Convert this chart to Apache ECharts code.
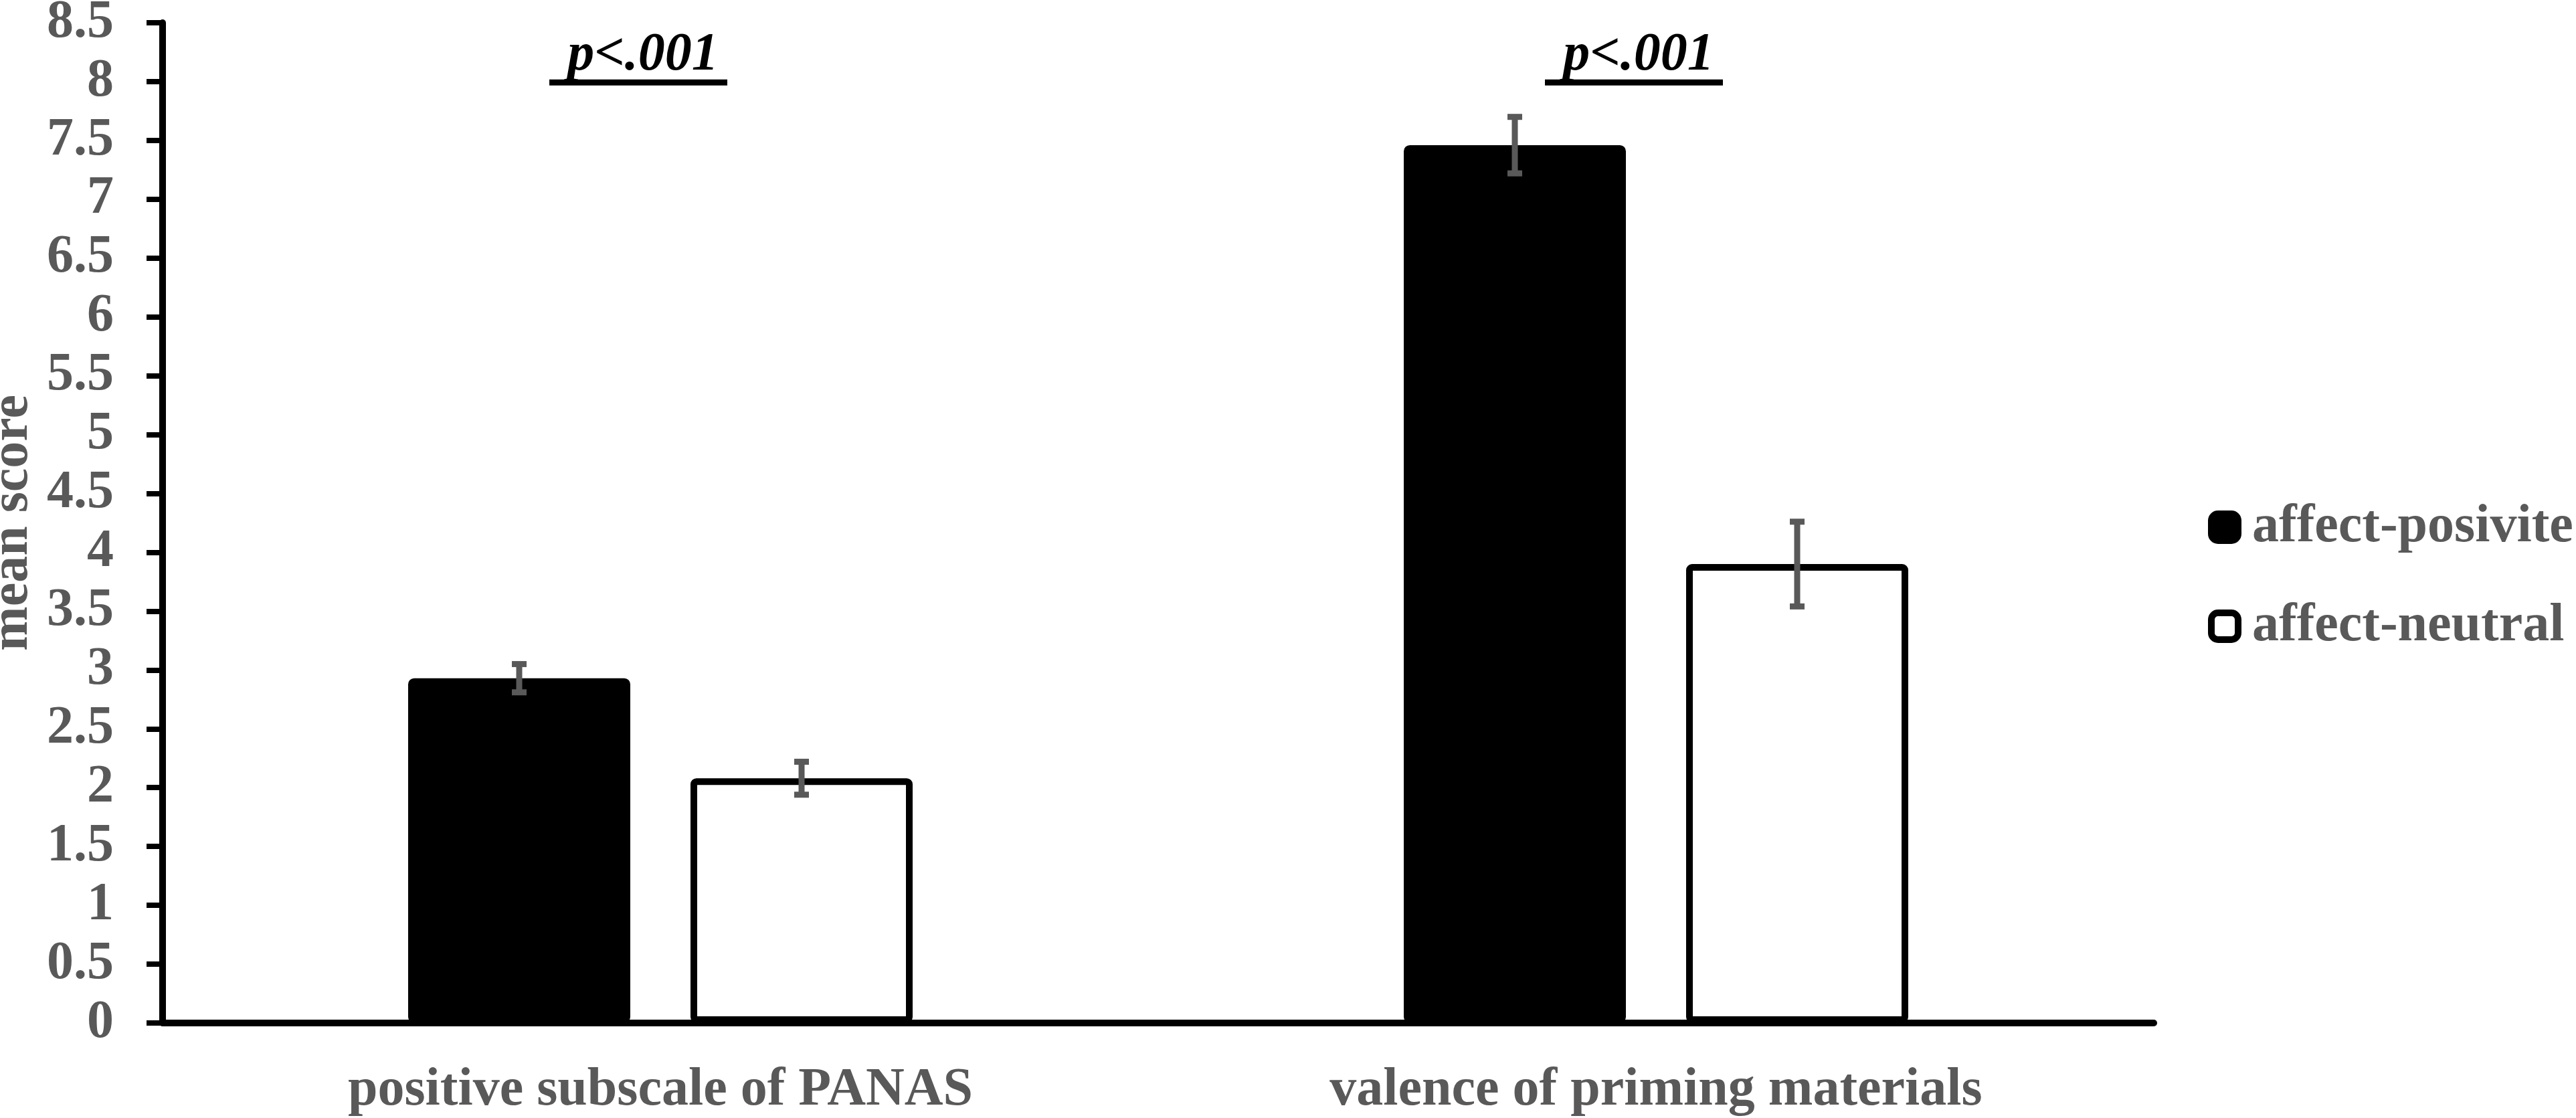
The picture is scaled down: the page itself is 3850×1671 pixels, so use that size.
<!DOCTYPE html>
<html>
<head>
<meta charset="utf-8">
<title>mean score</title>
<script src="https://cdn.jsdelivr.net/npm/echarts@6/dist/echarts.min.js"></script>
<style>
    html, body { margin: 0; padding: 0; background: #fff; }
    #chart { width: 3850px; height: 1671px; }
</style>
</head>
<body>
<div id="chart"></div>
<script>
// categories and series values
var categories = ["positive subscale of PANAS", "valence of priming materials"];
var seriesNames = ["affect-posivite", "affect-neutral"];
var positiveMeans = [2.93, 7.46];
var positiveErr = [0.12, 0.24];
var neutralMeans = [2.08, 3.90];
var neutralErr = [0.14, 0.36];
var pLabels = ["p<.001", "p<.001"];
var pLabelLevel = 8.22;

var font = "'Liberation Serif', 'Times New Roman', serif";
var grey = "#595959";
var barWidthPx = 332;
var barGapPx = 90;

var myChart = echarts.init(document.getElementById("chart"));

// error bar data: [categoryIndex, low, high]
function errData(means, errs) {
    return means.map(function (m, i) {
        return [i, m - errs[i], m + errs[i]];
    });
}

function makeErrRender(sign) {
    return function (params, api) {
        var idx = api.value(0);
        var lo = api.coord([idx, api.value(1)]);
        var hi = api.coord([idx, api.value(2)]);
        var x = lo[0] + sign * (barWidthPx + barGapPx) / 2;
        var cap = 11;
        var style = { stroke: grey, lineWidth: 9 };
        return {
            type: "group",
            children: [
                { type: "line", shape: { x1: x, y1: lo[1], x2: x, y2: hi[1] }, style: style },
                { type: "line", shape: { x1: x - cap, y1: lo[1], x2: x + cap, y2: lo[1] }, style: style },
                { type: "line", shape: { x1: x - cap, y1: hi[1], x2: x + cap, y2: hi[1] }, style: style }
            ]
        };
    };
}

var option = {
    animation: false,
    backgroundColor: "#fff",
    grid: {
        left: 243, right: 631, top: 34, bottom: 142,
        containLabel: false,
        outerBoundsMode: "none"
    },
    legend: {
        orient: "vertical",
        left: 3300,
        top: 748,
        padding: 0,
        itemWidth: 40,
        itemHeight: 40,
        itemGap: 68,
        icon: "roundRect",
        textStyle: {
            fontFamily: font, fontSize: 80, fontWeight: "bold", color: grey,
            lineHeight: 50, padding: [0, 0, 0, 16]
        },
        data: [
            { name: seriesNames[0], itemStyle: { color: "#000", borderColor: "#000", borderWidth: 10 } },
            { name: seriesNames[1], itemStyle: { color: "#fff", borderColor: "#000", borderWidth: 10 } }
        ]
    },
    xAxis: {
        type: "category",
        data: categories,
        axisLine: { lineStyle: { color: "#000", width: 10 } },
        axisTick: { show: false },
        axisLabel: {
            fontFamily: font, fontSize: 80, fontWeight: "bold", color: grey, margin: 61
        }
    },
    yAxis: {
        type: "value",
        min: 0,
        max: 8.5,
        interval: 0.5,
        name: "mean score",
        nameLocation: "middle",
        nameRotate: 90,
        nameGap: 176,
        nameTextStyle: { fontFamily: font, fontSize: 80, fontWeight: "bold", color: grey },
        axisLine: { show: true, lineStyle: { color: "#000", width: 10 } },
        axisTick: { show: true, length: 24, lineStyle: { color: "#000", width: 8 } },
        splitLine: { show: false },
        axisLabel: {
            fontFamily: font, fontSize: 80, fontWeight: "bold", color: grey, margin: 73
        }
    },
    series: [
        {
            name: seriesNames[0],
            type: "bar",
            data: positiveMeans,
            barWidth: barWidthPx,
            barGap: (barGapPx / barWidthPx * 100) + "%",
            itemStyle: { color: "#000", borderColor: "#000", borderWidth: 10, borderRadius: 4 }
        },
        {
            name: seriesNames[1],
            type: "bar",
            data: neutralMeans,
            barWidth: barWidthPx,
            itemStyle: { color: "#fff", borderColor: "#000", borderWidth: 10, borderRadius: 4 }
        },
        {
            type: "custom",
            renderItem: makeErrRender(-1),
            encode: { x: 0, y: [1, 2] },
            data: errData(positiveMeans, positiveErr),
            z: 5
        },
        {
            type: "custom",
            renderItem: makeErrRender(1),
            encode: { x: 0, y: [1, 2] },
            data: errData(neutralMeans, neutralErr),
            z: 5
        }
    ]
};

myChart.setOption(option);

// significance labels, placed through the axes
var graphics = [];
pLabels.forEach(function (txt, i) {
    var pt = myChart.convertToPixel({ xAxisIndex: 0, yAxisIndex: 0 }, [i, pLabelLevel]);
    var cx = pt[0] - 26;
    graphics.push({
        type: "text",
        x: cx,
        y: pt[1],
        style: {
            text: txt,
            font: "italic bold 80px " + font,
            fill: "#000",
            align: "center",
            verticalAlign: "middle"
        }
    });
    graphics.push({
        type: "line",
        shape: { x1: cx - 140, y1: pt[1] + 40, x2: cx + 126, y2: pt[1] + 40 },
        style: { stroke: "#000", lineWidth: 9 }
    });
});
myChart.setOption({ graphic: graphics });
</script>
</body>
</html>
